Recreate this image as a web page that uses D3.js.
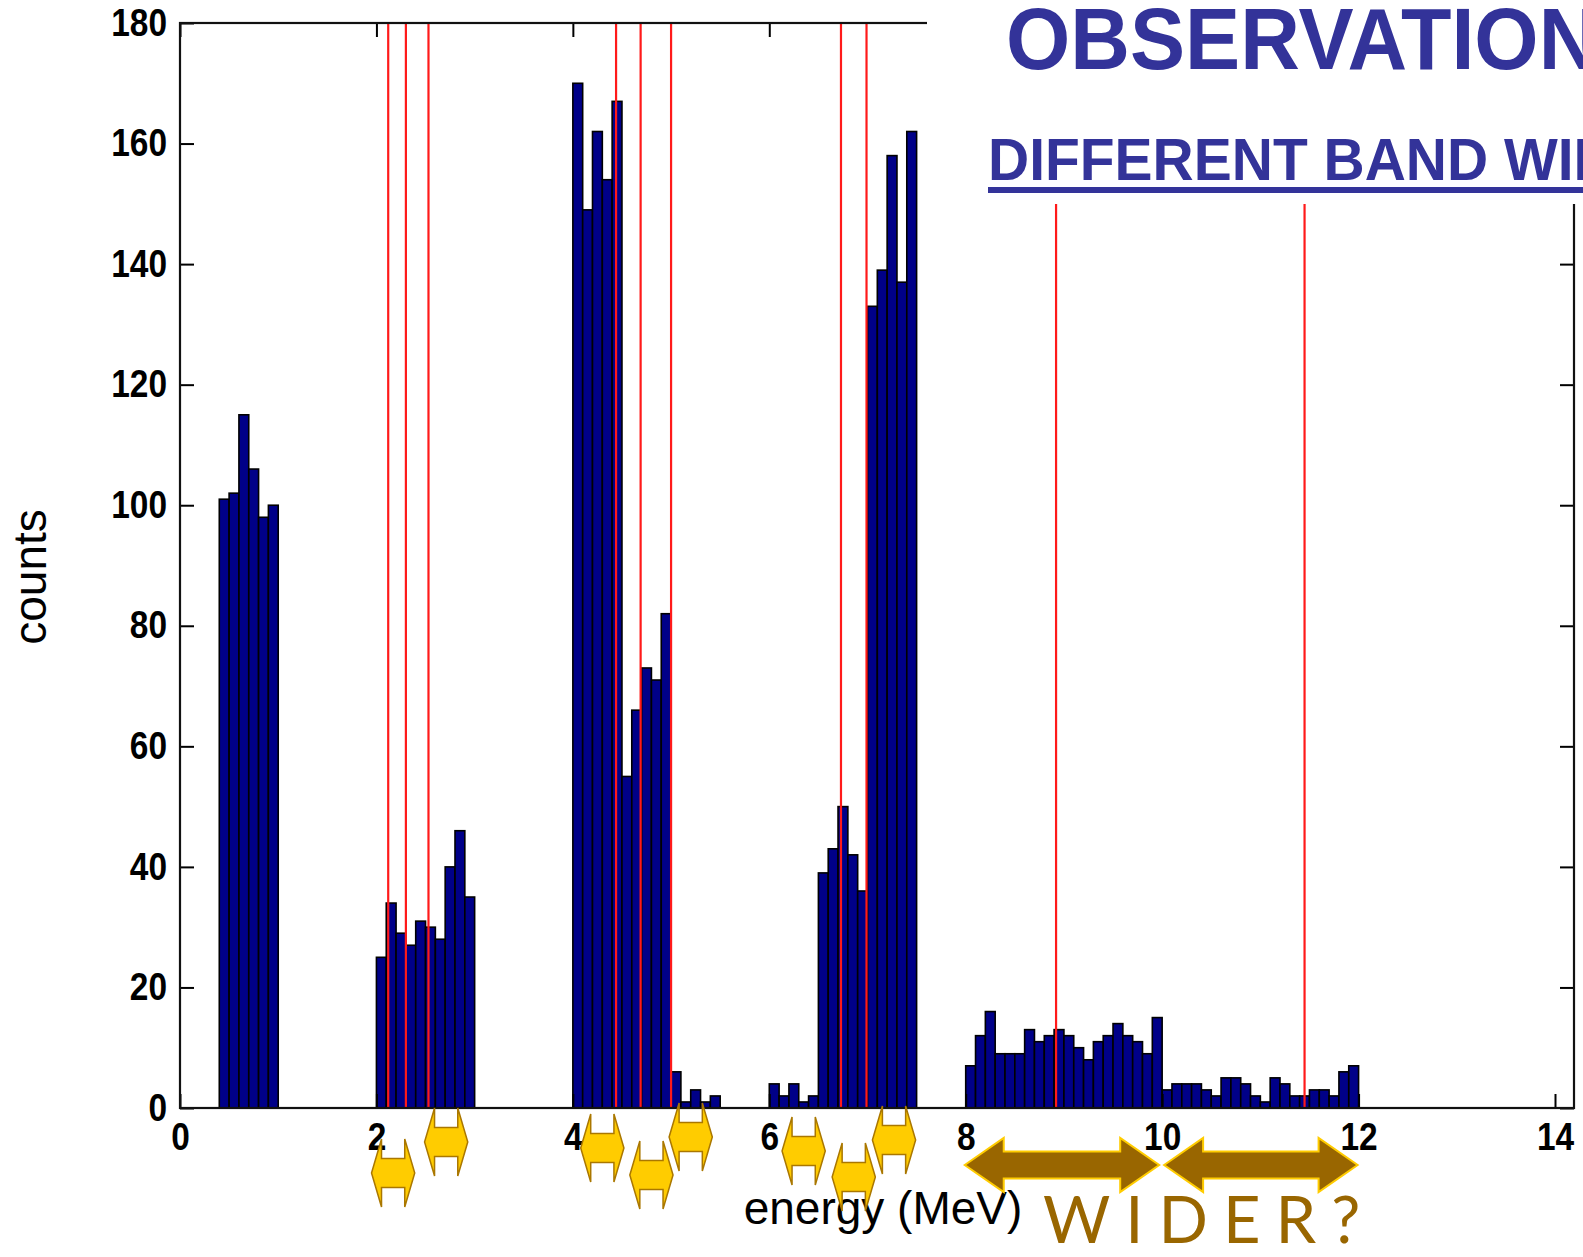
<!DOCTYPE html>
<html>
<head>
<meta charset="utf-8">
<script src="https://cdn.jsdelivr.net/npm/d3@7"></script>
<style>
  html, body { margin: 0; padding: 0; background: #fff; overflow: hidden; }
  svg { display: block; }
</style>
</head>
<body>
<svg id="SVG_CONTAINER" width="1583" height="1257"></svg>
<script>
let d3 = window.d3;

// histogram: 0.1 MeV bins, only the runs of non-empty bins are listed
const BIN = 0.1;
const runStarts = [0.4, 2.0, 4.0, 6.0, 8.0];
const countsRun1 = [101, 102, 115, 106, 98, 100];
const countsRun2 = [25, 34, 29, 27, 31, 30, 28, 40, 46, 35];
const countsRun3 = [170, 149, 162, 154, 167, 55, 66, 73, 71, 82, 6, 1, 3, 1, 2];
const countsRun4 = [4, 2, 4, 1, 2, 39, 43, 50, 42, 36, 133, 139, 158, 137, 162];
const countsRun5 = [7, 12, 16, 9, 9, 9, 13, 11, 12, 13, 12, 10, 8, 11, 12, 14, 12, 11, 9, 15,
                    3, 4, 4, 4, 3, 2, 5, 5, 4, 2, 1, 5, 4, 2, 2, 3, 3, 2, 6, 7];

// red marker lines (MeV)
const redLines = [2.12, 2.30, 2.53, 4.44, 4.69, 5.0, 6.73, 6.99, 8.92, 11.45];

// little yellow arrows: centre energy (MeV)
const smallArrows = [2.17, 2.71, 4.30, 4.80, 5.20, 6.35, 6.86, 7.27];
// the two wide brown arrows: [from, to] in MeV
const wideArrows = [[7.99, 9.97], [10.02, 11.99]];

const xTicks = [0, 2, 4, 6, 8, 10, 12, 14];
const yTicks = [0, 20, 40, 60, 80, 100, 120, 140, 160, 180];

// layout
const W = 1583, H = 1257;
const PLOT = { LEFT: 180, RIGHT: 1574, TOP: 23, BOTTOM: 1108 };
const SMALL_ARROW_Y = [1173, 1142, 1148, 1175, 1137, 1151, 1177, 1140];

let svg = d3.select("#SVG_CONTAINER");
svg.append("rect").attr("width", W).attr("height", H).attr("fill", "#fff");

let x = d3.scaleLinear().domain([0, 14]).range([PLOT.LEFT, 1555]);
let y = d3.scaleLinear().domain([0, 180]).range([PLOT.BOTTOM, PLOT.TOP]);

let bins = [];
[countsRun1, countsRun2, countsRun3, countsRun4, countsRun5].forEach((run, r) => {
  run.forEach((c, i) => {
    bins.push({ x0: Math.round((runStarts[r] + i * BIN) * 10) / 10, count: c });
  });
});

// bars
svg.append("g").selectAll("rect")
  .data(bins)
  .enter()
  .append("rect")
    .attr("x", d => x(d.x0))
    .attr("width", d => x(d.x0 + BIN) - x(d.x0))
    .attr("y", d => y(d.count))
    .attr("height", d => y(0) - y(d.count))
    .attr("fill", "#000088")
    .attr("stroke", "#000")
    .attr("stroke-width", 1.6);

// red lines
svg.append("g").selectAll("line")
  .data(redLines)
  .enter()
  .append("line")
    .attr("x1", d => x(d)).attr("x2", d => x(d))
    .attr("y1", y(180)).attr("y2", y(0))
    .attr("stroke", "#ff1a1a")
    .attr("stroke-width", 2.2);

// axes, ticks pointing inward
let axisFont = g => g.selectAll("text")
  .style("font-family", "'Liberation Sans', Arial, sans-serif")
  .style("font-weight", "bold")
  .style("font-size", "38px")
  .attr("fill", "#000");

let gBottom = svg.append("g")
  .attr("transform", "translate(0," + y(0) + ")")
  .call(d3.axisBottom(x).tickValues(xTicks).tickSizeInner(-14).tickSizeOuter(0).tickPadding(15));
gBottom.call(axisFont);
gBottom.selectAll("text").attr("transform", "scale(0.88,1)");

let gLeft = svg.append("g")
  .attr("transform", "translate(" + PLOT.LEFT + ",0)")
  .call(d3.axisLeft(y).tickValues(yTicks).tickSizeInner(-14).tickSizeOuter(0).tickPadding(13));
gLeft.call(axisFont);
gLeft.selectAll("text")
  .attr("transform", function () { return "translate(" + this.getAttribute("x") + ",0) scale(0.88,1)"; })
  .attr("x", 0);

let gTop = svg.append("g")
  .attr("transform", "translate(0," + PLOT.TOP + ")")
  .call(d3.axisTop(x).tickValues(xTicks).tickSizeInner(-14).tickSizeOuter(0).tickFormat(""));

let gRight = svg.append("g")
  .attr("transform", "translate(" + PLOT.RIGHT + ",0)")
  .call(d3.axisRight(y).tickValues(yTicks).tickSizeInner(-14).tickSizeOuter(0).tickFormat(""));

[gBottom, gLeft, gTop, gRight].forEach(g => {
  g.select(".domain").remove();
  g.selectAll(".tick line").attr("stroke", "#000").attr("stroke-width", 2);
});

// frame
svg.append("rect")
  .attr("x", PLOT.LEFT).attr("y", PLOT.TOP)
  .attr("width", PLOT.RIGHT - PLOT.LEFT).attr("height", PLOT.BOTTOM - PLOT.TOP)
  .attr("fill", "none")
  .attr("stroke", "#111")
  .attr("stroke-width", 2.2);

// title block sits on top of the chart's upper right corner
svg.append("rect")
  .attr("x", 927).attr("y", 0)
  .attr("width", W - 927).attr("height", 204)
  .attr("fill", "#fff");

svg.append("text")
  .attr("transform", "translate(1006,69) scale(0.95,1)")
  .style("font-family", "'Liberation Sans', Arial, sans-serif")
  .style("font-weight", "bold")
  .style("font-size", "87px")
  .attr("fill", "#333399")
  .text("OBSERVATIONS");

svg.append("text")
  .attr("transform", "translate(988,180) scale(0.95,1)")
  .style("font-family", "'Liberation Sans', Arial, sans-serif")
  .style("font-weight", "bold")
  .style("font-size", "60px")
  .attr("fill", "#333399")
  .text("DIFFERENT BAND WIDTHS");

svg.append("rect")
  .attr("x", 988).attr("y", 187)
  .attr("width", W - 988).attr("height", 6)
  .attr("fill", "#333399");

// axis titles
svg.append("text")
  .attr("transform", "translate(46,577) rotate(-90)")
  .attr("text-anchor", "middle")
  .style("font-family", "'Liberation Sans', Arial, sans-serif")
  .style("font-size", "46px")
  .attr("fill", "#000")
  .text("counts");

svg.append("text")
  .attr("x", 883).attr("y", 1224)
  .attr("text-anchor", "middle")
  .style("font-family", "'Liberation Sans', Arial, sans-serif")
  .style("font-size", "46px")
  .attr("fill", "#000")
  .text("energy (MeV)");

// double headed arrow outline
function arrowPath(x0, x1, cy, headLen, headH, bodyH) {
  let p = d3.path();
  p.moveTo(x0, cy);
  p.lineTo(x0 + headLen, cy - headH / 2);
  p.lineTo(x0 + headLen, cy - bodyH / 2);
  p.lineTo(x1 - headLen, cy - bodyH / 2);
  p.lineTo(x1 - headLen, cy - headH / 2);
  p.lineTo(x1, cy);
  p.lineTo(x1 - headLen, cy + headH / 2);
  p.lineTo(x1 - headLen, cy + bodyH / 2);
  p.lineTo(x0 + headLen, cy + bodyH / 2);
  p.lineTo(x0 + headLen, cy + headH / 2);
  p.closePath();
  return p.toString();
}

const SMALL_HALF = 0.22; // MeV
svg.append("g").selectAll("path")
  .data(smallArrows)
  .enter()
  .append("path")
    .attr("d", (d, i) => arrowPath(x(d - SMALL_HALF), x(d + SMALL_HALF), SMALL_ARROW_Y[i], 10, 68, 29))
    .attr("fill", "#ffcc00")
    .attr("stroke", "#aa7700")
    .attr("stroke-width", 1.5);

svg.append("g").selectAll("path")
  .data(wideArrows)
  .enter()
  .append("path")
    .attr("d", d => arrowPath(x(d[0]), x(d[1]), 1165, 39, 54, 27))
    .attr("fill", "#996600")
    .attr("stroke", "#ffcc00")
    .attr("stroke-width", 2);

svg.append("text")
  .attr("x", 1043).attr("y", 1243)
  .style("font-family", "Lato, 'Open Sans', sans-serif")
  .style("font-weight", "400")
  .style("font-size", "65px")
  .style("letter-spacing", "15px")
  .attr("fill", "#996600")
  .text("WIDER?");
</script>
</body>
</html>
